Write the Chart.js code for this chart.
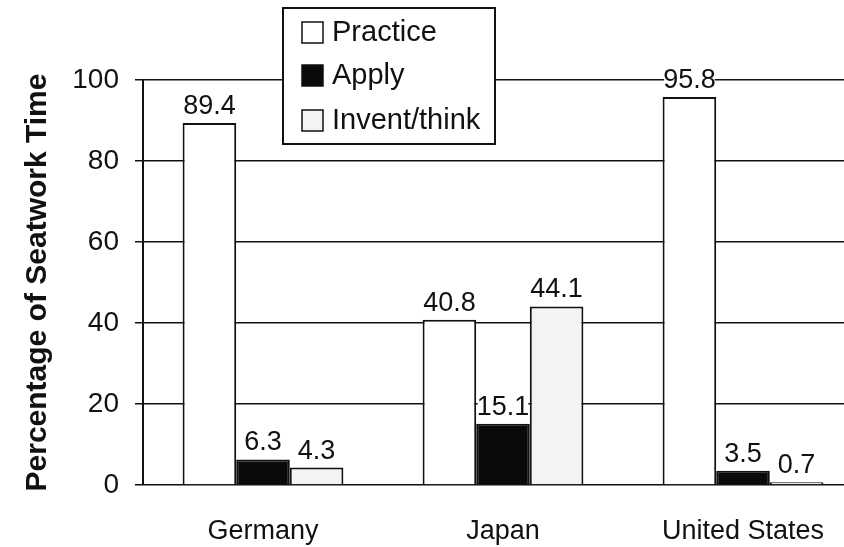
<!DOCTYPE html>
<html>
<head>
<meta charset="utf-8">
<script src="https://cdn.jsdelivr.net/npm/chart.js@4"></script>
<style>
  html, body { margin: 0; padding: 0; background: #fff; overflow: hidden; }
  #wrap { width: 844px; height: 547px; overflow: hidden; }
</style>
</head>
<body>
<div id="wrap"><canvas id="seatChart" width="864" height="547"></canvas></div>
<script>
// data
const categories = ['Germany', 'Japan', 'United States'];
const practice = [89.4, 40.8, 95.8];
const applyVals = [6.3, 15.1, 3.5];
const invent = [4.3, 44.1, 0.7];
const yTicks = [0, 20, 40, 60, 80, 100];

const FONT = '"Liberation Sans", Arial, Helvetica, sans-serif';
const INK = '#111';

// value labels on top of each bar, white box behind so gridlines break
const valueLabels = {
    id: 'valueLabels',
    afterDatasetsDraw(chart) {
        const ctx = chart.ctx;
        ctx.save();
        ctx.font = '27px ' + FONT;
        ctx.textAlign = 'center';
        ctx.textBaseline = 'alphabetic';
        chart.data.datasets.forEach((ds, i) => {
            chart.getDatasetMeta(i).data.forEach((bar, j) => {
                const txt = ds.data[j].toFixed(1);
                const w = ctx.measureText(txt).width;
                const base = bar.y - 9;
                ctx.fillStyle = '#fff';
                ctx.fillRect(bar.x - w / 2 + 1, base - 22, w - 2, 24);
                ctx.fillStyle = INK;
                ctx.fillText(txt, bar.x, base);
            });
        });
        ctx.restore();
    }
};

// boxed legend sitting over the top of the plot
const boxLegend = {
    id: 'boxLegend',
    afterDraw(chart) {
        const ctx = chart.ctx;
        const left = 283, top = 8, w = 212, h = 136;
        const rows = [32, 75, 120];
        ctx.save();
        ctx.fillStyle = '#fff';
        ctx.fillRect(left, top, w, h);
        ctx.lineWidth = 2;
        ctx.strokeStyle = INK;
        ctx.strokeRect(left, top, w, h);
        ctx.font = '29px ' + FONT;
        ctx.textBaseline = 'middle';
        ctx.textAlign = 'left';
        chart.data.datasets.forEach((ds, i) => {
            const cy = rows[i];
            ctx.fillStyle = ds.backgroundColor;
            ctx.fillRect(302, cy - 10, 21, 21);
            ctx.lineWidth = 1.5;
            ctx.strokeRect(302, cy - 10, 21, 21);
            ctx.fillStyle = INK;
            ctx.fillText(ds.label, 332, cy + 1);
        });
        ctx.restore();
    }
};

const ctx = document.getElementById('seatChart').getContext('2d');
new Chart(ctx, {
    type: 'bar',
    data: {
        labels: categories,
        datasets: [
            { label: 'Practice', data: practice, backgroundColor: '#ffffff' },
            { label: 'Apply', data: applyVals, backgroundColor: '#0a0a0a' },
            { label: 'Invent/think', data: invent, backgroundColor: '#f3f3f3' }
        ]
    },
    options: {
        responsive: false,
        animation: false,
        layout: { padding: { top: 80, left: 20, right: 1, bottom: 0 } },
        datasets: {
            bar: {
                borderColor: INK,
                borderWidth: 2,
                categoryPercentage: 0.67,
                barPercentage: 1.0
            }
        },
        plugins: {
            legend: { display: false },
            tooltip: { enabled: false }
        },
        scales: {
            x: {
                grid: { display: false },
                border: { display: false },
                ticks: { color: INK, font: { family: FONT, size: 27 }, padding: 22 },
                afterFit(scale) { scale.height = 62; }
            },
            y: {
                min: 0,
                max: 100,
                afterBuildTicks(scale) { scale.ticks = yTicks.map(v => ({ value: v })); },
                grid: { color: INK, lineWidth: 1.5, tickLength: 8 },
                border: { color: INK, width: 2 },
                ticks: { color: INK, font: { family: FONT, size: 28 }, padding: 16 },
                title: {
                    display: true,
                    text: 'Percentage of Seatwork Time',
                    color: INK,
                    font: { family: FONT, size: 30, weight: 'bold' },
                    padding: { top: 0, bottom: 0 }
                },
                afterFit(scale) { scale.width = 123; }
            }
        }
    },
    plugins: [valueLabels, boxLegend]
});
</script>
</body>
</html>
